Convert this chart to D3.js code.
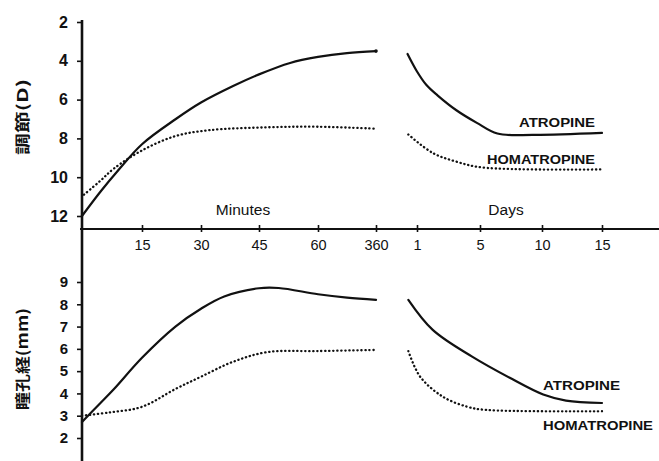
<!DOCTYPE html>
<html>
<head>
<meta charset="utf-8">
<script src="https://cdn.jsdelivr.net/npm/d3@7"></script>
<style>
  body { margin: 0; background: #fff; }
  svg text { fill: #111; }
</style>
</head>
<body>
<div id="chart"></div>
<script>
// tick values
const minuteTicks = [15, 30, 45, 60, 360];
const dayTicks = [1, 5, 10, 15];
const accTicks = [2, 4, 6, 8, 10, 12];
const pupilTicks = [2, 3, 4, 5, 6, 7, 8, 9];

// accommodation (D), minutes after instillation
const accAtropineMin = [[0, 12.0], [4.6, 10.75], [8.75, 9.72], [15, 8.3], [23.6, 7.0], [30, 6.15], [38.3, 5.3], [45, 4.7], [52.9, 4.11], [60, 3.8], [210, 3.6], [360, 3.5]];
const accHomatropineMin = [[0.5, 10.9], [4.5, 10.2], [8, 9.55], [15, 8.62], [23.5, 7.88], [32, 7.58], [47, 7.43], [60, 7.4], [360, 7.5]];
// accommodation (D), days
const accAtropineDay = [[0.4, 3.65], [1.0, 4.55], [1.6, 5.25], [2.3, 5.78], [3.5, 6.55], [4.8, 7.2], [6.4, 7.75], [9.3, 7.82], [15, 7.72]];
const accHomatropineDay = [[0.45, 7.8], [2.0, 8.75], [3.5, 9.2], [5.2, 9.5], [15, 9.6]];

// pupil diameter (mm), minutes
const pupilAtropineMin = [[0, 2.72], [4.5, 3.55], [8, 4.2], [15, 5.6], [23.5, 7.0], [30, 7.8], [36, 8.35], [45, 8.72], [50, 8.73], [60, 8.45], [210, 8.3], [360, 8.2]];
const pupilHomatropineMin = [[0, 3.0], [7, 3.15], [15, 3.4], [23.5, 4.2], [30, 4.75], [38, 5.4], [47, 5.85], [60, 5.9], [360, 5.95]];
// pupil diameter (mm), days
const pupilAtropineDay = [[0.45, 8.2], [2.0, 6.85], [4.5, 5.65], [7.4, 4.7], [10.1, 3.95], [12, 3.68], [15, 3.57]];
const pupilHomatropineDay = [[0.45, 5.9], [1.2, 4.75], [2.65, 3.85], [4.2, 3.4], [5.5, 3.26], [15, 3.2]];

const width = 659, height = 461;
const axisX = 82, axisY = 229;

const svg = d3.select("#chart")
  .append("svg")
  .attr("width", width)
  .attr("height", height)
  .style("font-family", "'Liberation Sans', Arial, sans-serif");

// broken time axis: minutes on the left, days on the right
const xMin = d3.scaleLinear().domain([0, 15, 30, 45, 60, 360]).range([axisX, 142, 201, 259, 318, 376]);
const xDay = d3.scaleLinear().domain([1, 5, 10, 15]).range([417, 480, 542, 602]);

const yAcc = d3.scaleLinear().domain([2, 12]).range([22, 216]);
const yPup = d3.scaleLinear().domain([2, 9]).range([438, 282]);

// vertical axis line
svg.append("line")
  .attr("x1", axisX).attr("x2", axisX)
  .attr("y1", 20).attr("y2", height)
  .attr("stroke", "#111").attr("stroke-width", 2.6);

// horizontal axis line
svg.append("line")
  .attr("x1", axisX - 2).attr("x2", width)
  .attr("y1", axisY).attr("y2", axisY)
  .attr("stroke", "#111").attr("stroke-width", 2);

function styleYAxis(g, size) {
  g.select(".domain").remove();
  g.selectAll(".tick line").attr("stroke", "#111").attr("stroke-width", 1.6).attr("x2", -5).attr("x1", 1);
  g.selectAll(".tick text").attr("font-size", size).attr("font-weight", "bold").attr("font-family", "'Liberation Sans', Arial, sans-serif");
}
function styleXAxis(g) {
  g.select(".domain").remove();
  g.selectAll(".tick line").attr("stroke", "#111").attr("stroke-width", 1.6).attr("y1", -4).attr("y2", 3);
  g.selectAll(".tick text").attr("font-size", 14.5).attr("font-family", "'Liberation Sans', Arial, sans-serif");
}

svg.append("g")
  .attr("transform", `translate(${axisX},0)`)
  .call(d3.axisLeft(yAcc).tickValues(accTicks).tickFormat(d3.format("d")).tickSize(5).tickPadding(9))
  .call(g => styleYAxis(g, 16));

svg.append("g")
  .attr("transform", `translate(${axisX},0)`)
  .call(d3.axisLeft(yPup).tickValues(pupilTicks).tickFormat(d3.format("d")).tickSize(5).tickPadding(9))
  .call(g => styleYAxis(g, 15));

svg.append("g")
  .attr("transform", `translate(0,${axisY})`)
  .call(d3.axisBottom(xMin).tickValues(minuteTicks).tickFormat(d3.format("d")).tickSize(3).tickPadding(8))
  .call(styleXAxis);

svg.append("g")
  .attr("transform", `translate(0,${axisY})`)
  .call(d3.axisBottom(xDay).tickValues(dayTicks).tickFormat(d3.format("d")).tickSize(3).tickPadding(8))
  .call(styleXAxis);

// section titles above the time axis
svg.append("text").attr("x", (xMin(30) + xMin(45)) / 2 + 13).attr("y", 215)
  .attr("text-anchor", "middle").attr("font-size", 15.5).text("Minutes");
svg.append("text").attr("x", (xDay(5) + xDay(10)) / 2 - 5).attr("y", 215)
  .attr("text-anchor", "middle").attr("font-size", 15.5).text("Days");

// y titles
svg.append("text")
  .attr("transform", `translate(28,${(yAcc(4) + yAcc(10)) / 2 - 2}) rotate(-90)`)
  .attr("text-anchor", "middle")
  .attr("font-family", "'Noto Sans CJK JP', sans-serif")
  .attr("font-size", 15).attr("font-weight", "bold")
  .attr("textLength", 76).attr("lengthAdjust", "spacingAndGlyphs")
  .text("調節(D)");
svg.append("text")
  .attr("transform", `translate(28,${(yPup(3) + yPup(8)) / 2 - 1}) rotate(-90)`)
  .attr("text-anchor", "middle")
  .attr("font-family", "'Noto Sans CJK JP', sans-serif")
  .attr("font-size", 15).attr("font-weight", "bold")
  .attr("textLength", 102).attr("lengthAdjust", "spacingAndGlyphs")
  .text("瞳孔経(mm)");

function drawCurve(data, x, y, dotted) {
  const line = d3.line()
    .x(d => x(d[0]))
    .y(d => y(d[1]))
    .curve(d3.curveCatmullRom.alpha(0.5));
  svg.append("path")
    .datum(data)
    .attr("d", line)
    .attr("fill", "none")
    .attr("stroke", "#111")
    .attr("stroke-width", dotted ? 2.3 : 2.2)
    .attr("stroke-linecap", "round")
    .attr("stroke-dasharray", dotted ? "0.3 3.7" : null);
}

drawCurve(accAtropineMin, xMin, yAcc, false);
drawCurve(accHomatropineMin, xMin, yAcc, true);
drawCurve(accAtropineDay, xDay, yAcc, false);
drawCurve(accHomatropineDay, xDay, yAcc, true);
drawCurve(pupilAtropineMin, xMin, yPup, false);
drawCurve(pupilHomatropineMin, xMin, yPup, true);
drawCurve(pupilAtropineDay, xDay, yPup, false);
drawCurve(pupilHomatropineDay, xDay, yPup, true);

// small end dot on the 360-minute atropine accommodation value
svg.append("circle")
  .attr("cx", xMin(360)).attr("cy", yAcc(3.5)).attr("r", 1.8).attr("fill", "#111");

// series labels
const drugLabels = [
  {text: "ATROPINE", day: 15, value: 7.4, scale: yAcc, dx: -83, len: 76},
  {text: "HOMATROPINE", day: 15, value: 9.3, scale: yAcc, dx: -115, len: 108},
  {text: "ATROPINE", day: 15, value: 4.15, scale: yPup, dx: -59, len: 77},
  {text: "HOMATROPINE", day: 15, value: 2.35, scale: yPup, dx: -59, len: 110}
];
svg.selectAll(".drug")
  .data(drugLabels)
  .join("text")
  .attr("class", "drug")
  .attr("x", d => xDay(d.day) + d.dx)
  .attr("y", d => d.scale(d.value))
  .attr("font-size", 13).attr("font-weight", "bold")
  .attr("textLength", d => d.len).attr("lengthAdjust", "spacingAndGlyphs")
  .text(d => d.text);
</script>
</body>
</html>
